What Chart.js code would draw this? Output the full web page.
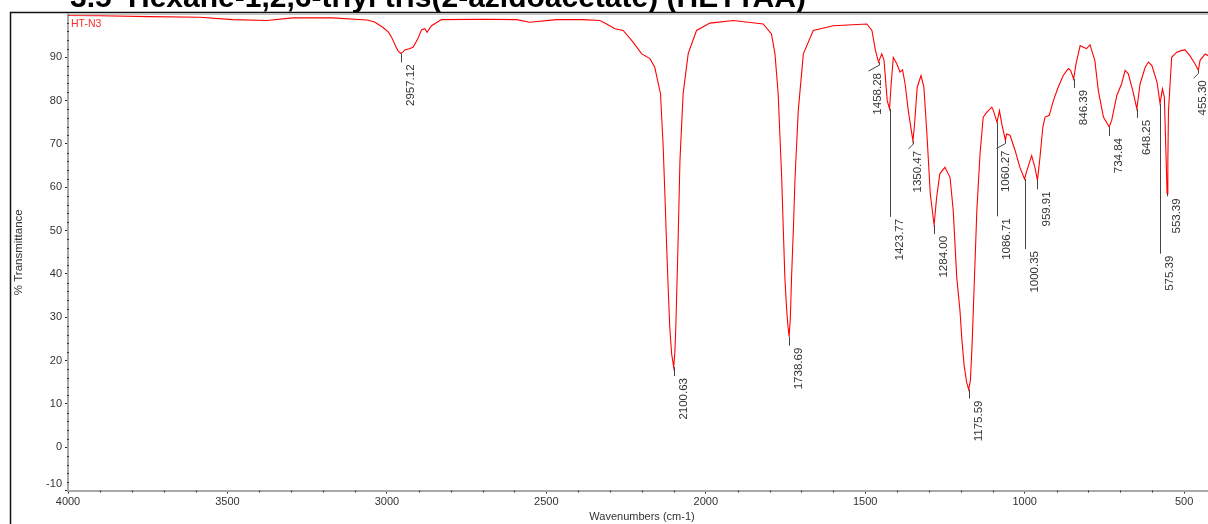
<!DOCTYPE html>
<html>
<head>
<meta charset="utf-8">
<script src="https://cdn.jsdelivr.net/npm/chart.js@4.4.1/dist/chart.umd.min.js"></script>
<style>
html,body{margin:0;padding:0;background:#fff;overflow:hidden;width:1208px;height:524px;}
#wrap{position:absolute;left:0;top:0;width:1218px;height:524px;}
</style>
</head>
<body>
<div id="wrap"><canvas id="c" width="1218" height="524"></canvas></div>
<script>
// ---------- data ----------
const chartTitleNumber = '3.5';
const chartTitle = 'Hexane-1,2,6-triyl tris(2-azidoacetate) (HETTAA)';
const seriesName = 'HT-N3';
const xAxisTitle = 'Wavenumbers (cm-1)';
const yAxisTitle = '% Transmittance';

const xTickValues = [4000, 3500, 3000, 2500, 2000, 1500, 1000, 500];
const yTickValues = [-10, 0, 10, 20, 30, 40, 50, 60, 70, 80, 90];

const wavenumbers = [
  4000, 3995, 3900, 3744, 3587, 3483, 3377, 3295, 3170, 3063,
  3040, 3013, 2995, 2985, 2972, 2965, 2957.12, 2950, 2944, 2930,
  2918, 2903, 2891, 2881, 2874, 2860, 2829, 2700, 2593, 2552,
  2468, 2386, 2332, 2311, 2285, 2259, 2228, 2201, 2175, 2160,
  2142, 2134, 2128, 2123, 2118, 2113, 2107, 2100.63, 2097, 2094,
  2087, 2081, 2071, 2055, 2029, 1987, 1914, 1820,
  1794, 1783, 1773, 1762, 1757, 1752, 1747, 1743, 1738.69, 1735,
  1731, 1725, 1720, 1710, 1694, 1663, 1600, 1495, 1479, 1468,
  1458.28, 1448, 1441, 1431, 1423.77, 1419, 1412, 1401, 1391, 1383,
  1375, 1365, 1350.47, 1346, 1337, 1325, 1316, 1306, 1296, 1284.00,
  1276, 1266, 1250, 1234, 1224, 1213, 1203, 1197, 1190, 1182,
  1175.59, 1170, 1165, 1161, 1150, 1140, 1130, 1119, 1103, 1098,
  1086.71, 1079, 1072, 1060.27, 1057, 1046, 1030, 1015, 1000.35, 993,
  978, 967, 959.91, 952, 943, 936, 923, 910, 895, 879,
  863, 856, 846.39, 839, 826, 816, 806, 795, 780, 769,
  753, 734.84, 727, 711, 696, 685, 675, 661, 648.25, 638,
  622, 612, 601, 585, 575.39, 568, 562, 557, 553.39, 551,
  549, 539, 523, 507, 497, 482, 466, 455.30, 450, 434,
  425, 412, 400
];
const transmittance = [
  99.7, 99.65, 99.6, 99.4, 99.26, 98.7, 98.5, 99.1, 99.1, 98.6,
  98.2, 96.95, 95.8, 94.6, 92.5, 91.5, 90.9, 91.2, 91.7, 92.0,
  92.3, 94.3, 96.4, 96.6, 95.8, 97.3, 98.7, 98.8, 98.7, 98.1,
  98.7, 98.7, 98.5, 97.7, 96.6, 96.2, 93.5, 90.8, 89.7, 87.7,
  81.6, 70.1, 58.0, 47.0, 37.0, 27.7, 21.5, 18.5, 21.8, 27.7,
  47.0, 66.1, 81.6, 90.9, 96.2, 97.9, 98.5, 97.7,
  95.4, 90.8, 81.6, 62.3, 50.5, 39.2, 32.5, 28.5, 25.5, 29.5,
  39.2, 51.0, 62.3, 77.7, 90.8, 96.2, 97.3, 97.7, 96.2, 91.6,
  88.9, 90.8, 89.3, 80.0, 78.1, 83.5, 90.0, 88.5, 86.6, 87.1,
  83.9, 77.7, 70.7, 73.9, 83.1, 85.8, 83.1, 71.6, 58.5, 51.3,
  57.7, 63.1, 64.6, 62.3, 54.6, 39.2, 31.6, 25.0, 19.0, 15.0,
  13.3, 15.5, 23.5, 31.6, 54.6, 67.7, 76.2, 77.3, 78.5, 77.7,
  75.0, 77.7, 74.7, 70.8, 72.3, 72.0, 68.5, 64.6, 61.9, 63.9,
  67.3, 64.3, 61.6, 66.9, 73.9, 76.2, 76.6, 80.0, 83.1, 85.8,
  87.4, 87.0, 85.0, 88.5, 92.7, 92.3, 92.0, 92.9, 89.3, 82.3,
  76.2, 73.9, 75.5, 81.2, 83.9, 87.0, 86.2, 82.3, 78.1, 83.9,
  87.7, 88.9, 88.1, 84.3, 79.3, 82.7, 80.8, 68.0, 58.6, 66.0,
  77.7, 90.0, 91.2, 91.6, 91.7, 90.4, 88.5, 87.0, 89.3, 90.8,
  90.4, 90.6, 90.2
];

const peakWavenumbers = [
  2957.12, 2100.63, 1738.69, 1458.28, 1423.77, 1350.47, 1284.00, 1175.59,
  1086.71, 1060.27, 1000.35, 959.91, 846.39, 734.84, 648.25, 575.39, 553.39, 455.30
];

// ---------- presentation (label placement in pixels) ----------
const peakLabelLayout = {
  '1458.28': {drop: 9, dx: -11},
  '1423.77': {drop: 108, dx: 0},
  '1350.47': {drop: 8, dx: -5},
  '1086.71': {drop: 94, dx: 0},
  '1060.27': {drop: 8, dx: -9},
  '1000.35': {drop: 70, dx: 0},
  '575.39':  {drop: 150, dx: 0},
  '553.39':  {drop: 3, dx: 0},
  '455.30':  {drop: 8, dx: -5}
};
const FONT = '"Liberation Sans", Arial, sans-serif';

const points = wavenumbers.map((w, i) => ({x: w, y: transmittance[i]}));

const decorPlugin = {
  id: 'decor',
  beforeDraw(chart) {
    const ctx = chart.ctx;
    ctx.save();
    ctx.fillStyle = '#fff';
    ctx.fillRect(0, 0, chart.width, chart.height);
    // title (cut at top)
    ctx.fillStyle = '#000';
    ctx.font = 'bold 30px ' + FONT;
    ctx.textBaseline = 'alphabetic';
    ctx.textAlign = 'left';
    ctx.fillText(chartTitleNumber, 70, 6.5);
    ctx.fillText(chartTitle, 128, 6.5);
    // outer frame
    ctx.strokeStyle = '#111';
    ctx.lineWidth = 1.5;
    ctx.beginPath();
    ctx.moveTo(10.5, 524);
    ctx.lineTo(10.5, 12.5);
    ctx.lineTo(chart.width, 12.5);
    ctx.stroke();
    const a = chart.chartArea;
    ctx.strokeStyle = '#c4c4c4';
    ctx.lineWidth = 1;
    ctx.beginPath();
    ctx.moveTo(a.left, a.top + 0.5);
    ctx.lineTo(a.right, a.top + 0.5);
    ctx.stroke();
    ctx.restore();
  },
  afterDraw(chart) {
    const ctx = chart.ctx;
    const xs = chart.scales.x, ys = chart.scales.y;
    const a = chart.chartArea;
    ctx.save();
    // minor ticks
    ctx.fillStyle = '#333';
    for (let v = -10; v <= 100; v += 2) {
      if (v % 10 === 0) continue;
      const py = Math.round(ys.getPixelForValue(v));
      ctx.fillRect(a.left - 1, py, 2, 1);
    }
    for (let v = 4000; v >= 400; v -= 100) {
      if (v % 500 === 0) continue;
      const px = Math.round(xs.getPixelForValue(v));
      ctx.fillRect(px, a.bottom, 1, 2);
    }
    // series name
    ctx.fillStyle = '#ff2a2a';
    ctx.font = '10.5px ' + FONT;
    ctx.textBaseline = 'middle';
    ctx.textAlign = 'left';
    ctx.fillText(seriesName, 71, 24);
    // peak labels
    ctx.font = '11.5px ' + FONT;
    ctx.fillStyle = '#333';
    ctx.strokeStyle = '#444';
    ctx.lineWidth = 1;
    peakWavenumbers.forEach(w => {
      const idx = wavenumbers.indexOf(w);
      const t = transmittance[idx];
      const label = w.toFixed(2);
      const lay = peakLabelLayout[label] || {drop: 9, dx: 0};
      const px = Math.round(xs.getPixelForValue(w)) + 0.5;
      const py = ys.getPixelForValue(t);
      ctx.beginPath();
      ctx.moveTo(px, py);
      if (lay.dx) {
        ctx.lineTo(px, py + 3);
        ctx.lineTo(px + lay.dx, py + lay.drop);
      } else {
        ctx.lineTo(px, py + lay.drop);
      }
      ctx.stroke();
      ctx.save();
      ctx.translate(px + lay.dx + 12.5, py + lay.drop + 2);
      ctx.rotate(-Math.PI / 2);
      ctx.textAlign = 'right';
      ctx.textBaseline = 'alphabetic';
      ctx.fillText(label, 0, 0);
      ctx.restore();
    });
    ctx.restore();
  }
};

new Chart(document.getElementById('c'), {
  type: 'line',
  data: {
    datasets: [{
      label: seriesName,
      data: points,
      borderColor: 'rgb(255,0,0)',
      borderWidth: 1.1,
      pointRadius: 0,
      tension: 0,
      fill: false
    }]
  },
  options: {
    responsive: false,
    animation: false,
    devicePixelRatio: 1,
    layout: {padding: {left: 0, right: 2, top: 14, bottom: 0}},
    plugins: {legend: {display: false}, tooltip: {enabled: false}, title: {display: false}},
    scales: {
      x: {
        type: 'linear',
        reverse: true,
        min: 400,
        max: 4000,
        afterBuildTicks: s => { s.ticks = xTickValues.map(v => ({value: v})); },
        afterFit: s => { s.height = 33.5; },
        ticks: {
          color: '#333', font: {family: FONT, size: 11}, padding: 2, maxRotation: 0, autoSkip: false, includeBounds: false,
          callback: v => String(v)
        },
        grid: {drawOnChartArea: false, drawTicks: true, tickLength: 3, tickColor: '#222', lineWidth: 1},
        border: {display: true, color: '#a9a9a9', width: 2},
        title: {display: true, text: xAxisTitle, color: '#333', font: {family: FONT, size: 11}, padding: {top: 0, bottom: 0}}
      },
      y: {
        type: 'linear',
        min: -10,
        max: 100,
        afterBuildTicks: s => { s.ticks = yTickValues.map(v => ({value: v})); },
        afterFit: s => { s.width = 68; },
        ticks: {
          color: '#333', font: {family: FONT, size: 11}, padding: 3, autoSkip: false,
          callback: v => (v === yTickValues[0] ? [String(v), ''] : String(v))
        },
        grid: {drawOnChartArea: false, drawTicks: true, tickLength: 3, tickColor: '#222', lineWidth: 1},
        border: {display: true, color: '#a9a9a9', width: 2},
        title: {display: true, text: yAxisTitle, color: '#333', font: {family: FONT, size: 11.5}, padding: {top: 12, bottom: 0}}
      }
    }
  },
  plugins: [decorPlugin]
});
</script>
</body>
</html>
